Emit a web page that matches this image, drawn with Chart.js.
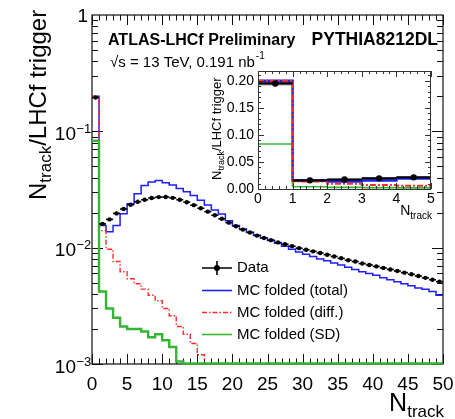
<!DOCTYPE html>
<html><head><meta charset="utf-8">
<script src="https://cdn.jsdelivr.net/npm/chart.js@4.4.1/dist/chart.umd.min.js"></script>
<style>
html,body{margin:0;padding:0;background:#fff;}
#wrap{position:relative;width:455px;height:419px;overflow:hidden;}
#main{position:absolute;left:0;top:0;}
#inset{position:absolute;left:200px;top:55px;}
</style></head><body>
<div id="wrap"><canvas id="main" width="455" height="419"></canvas><canvas id="inset" width="250" height="175"></canvas></div>
<script>
// ---------------- data ----------------
const binLowEdges = [0,1,2,3,4,5,6,7,8,9,10,11,12,13,14,15,16,17,18,19,20,21,22,23,24,25,26,27,28,29,30,31,32,33,34,35,36,37,38,39,40,41,42,43,44,45,46,47,48,49];
const dataValues = [0.195,0.0160,0.0175,0.0197,0.0215,0.0234,0.0248,0.0258,0.0267,0.0272,
  0.0273,0.0268,0.0258,0.0246,0.0232,0.0218,0.0204,0.0190,0.0177,0.0164,
  0.0153,0.0143,0.0135,0.0127,0.0121,0.0116,0.0111,0.0107,0.0103,0.0099,
  0.0096,0.0093,0.0090,0.0087,0.0084,0.0081,0.0078,0.0076,0.0073,0.0071,
  0.0069,0.0067,0.0065,0.0063,0.0061,0.0059,0.0057,0.0055,0.0053,0.0051];
const mcTotal = [0.200,0.0155,0.0137,0.0155,0.0196,0.0238,0.0290,0.0343,0.0366,0.0378,
  0.0362,0.0345,0.0323,0.0302,0.0281,0.0256,0.0233,0.0211,0.0195,0.0170,
  0.0155,0.0145,0.0136,0.0128,0.0121,0.0115,0.0109,0.0103,0.0097,0.0092,
  0.0088,0.0084,0.0080,0.0077,0.0074,0.0071,0.0068,0.0065,0.0062,0.0060,
  0.0058,0.0055,0.0053,0.0051,0.0049,0.0047,0.0045,0.0044,0.0042,0.0039];
const mcDiff = [0.200,0.0140,0.0097,0.0076,0.0062,0.0054,0.0049,0.0044,0.0039,0.0035,
  0.0030,0.0026,0.0021,0.0018,0.0015,0.0012,0.00101,0.00101,0.00101,0.00101,
  0.00101,0.00101,0.00101,0.00101,0.00101,0.00101,0.00101,0.00101,0.00101,0.00101,
  0.00101,0.00101,0.00101,0.00101,0.00101,0.00101,0.00101,0.00101,0.00101,0.00101,
  0.00101,0.00101,0.00101,0.00101,0.00101,0.00101,0.00101,0.00101,0.00101,0.00101];
const mcSD = [0.083,0.0042,0.0030,0.0025,0.0021,0.0020,0.0020,0.0019,0.0017,0.0018,
  0.0016,0.0014,0.00105,0.00101,0.00101,0.00101,0.00101,0.00101,0.00101,0.00101,
  0.00101,0.00101,0.00101,0.00101,0.00101,0.00101,0.00101,0.00101,0.00101,0.00101,
  0.00101,0.00101,0.00101,0.00101,0.00101,0.00101,0.00101,0.00101,0.00101,0.00101,
  0.00101,0.00101,0.00101,0.00101,0.00101,0.00101,0.00101,0.00101,0.00101,0.00101];
const dataSyst = [0.004,0.0018,0.0018,0.0018,0.0018];   // grey band in the inset
const insetBins = 5;
const xTickValues = [0,5,10,15,20,25,30,35,40,45,50];
const xTickLabels = ['0','5','10','15','20','25','30','35','40','45','50'];
const yTickValues = [1,0.1,0.01,0.001];
const yTickBase = ['1','10','10','10'];
const yTickExp = ['','\u22121','\u22122','\u22123'];
const insetXTickValues = [0,1,2,3,4,5];
const insetXTickLabels = ['0','1','2','3','4','5'];
const insetYTickValues = [0,0.05,0.10,0.15,0.20];
const insetYTickLabels = ['0.00','0.05','0.10','0.15','0.20'];
const seriesNames = ['Data','MC folded (total)','MC folded (diff.)','MC folded (SD)'];

// ---------------- styles ----------------
const BLUE='#1e1eff', RED='#ff2b2b', GREEN='#34b534', FONT='"Liberation Sans", Arial, sans-serif';
const RED_DASH=[5,2,1.5,2];

function stepPoints(vals){
  const pts = vals.map((v,i)=>({x:binLowEdges[i], y:v}));
  pts.push({x:binLowEdges[vals.length-1]+1, y:vals[vals.length-1]});
  return pts;
}
function drawParts(ctx, x, y, parts){
  let cx = x;
  for(const p of parts){
    ctx.font = (p.bold?'bold ':'') + p.size + 'px ' + FONT;
    ctx.fillText(p.t, cx, y + (p.dy||0));
    cx += ctx.measureText(p.t).width;
  }
  return cx;
}
function partsWidth(ctx, parts){
  let w=0; for(const p of parts){ ctx.font=(p.bold?'bold ':'')+p.size+'px '+FONT; w+=ctx.measureText(p.t).width; } return w;
}
function drawBinBars(chart, vals, width){
  const ctx=chart.ctx, xs=chart.scales.x, ys=chart.scales.y, a=chart.chartArea;
  ctx.save();
  ctx.beginPath(); ctx.rect(a.left,a.top,a.right-a.left,a.bottom-a.top); ctx.clip();
  ctx.strokeStyle='#000'; ctx.lineWidth=width;
  vals.forEach((v,i)=>{
    const y=ys.getPixelForValue(v);
    ctx.beginPath();
    ctx.moveTo(xs.getPixelForValue(binLowEdges[i]), y);
    ctx.lineTo(xs.getPixelForValue(binLowEdges[i]+1), y);
    ctx.stroke();
  });
  ctx.restore();
}

// ---------------- main chart decorations ----------------
const mainDecor = {
  id:'mainDecor',
  beforeDatasetsDraw(chart){
    const ctx=chart.ctx, xs=chart.scales.x, ys=chart.scales.y, a=chart.chartArea;
    ctx.save();
    ctx.strokeStyle='#111'; ctx.lineWidth=1.2;
    ctx.strokeRect(a.left, a.top, a.right-a.left, a.bottom-a.top);
    ctx.lineWidth=1;
    ctx.beginPath();
    for(let v=0; v<=50; v++){
      const px=Math.round(xs.getPixelForValue(v))+0.5;
      const len = v%5===0 ? 10 : 5.5;
      ctx.moveTo(px,a.bottom); ctx.lineTo(px,a.bottom-len);
      ctx.moveTo(px,a.top); ctx.lineTo(px,a.top+len);
    }
    for(let d=-3; d<0; d++){
      for(let m=1; m<=9; m++){
        const v=m*Math.pow(10,d);
        const py=Math.round(ys.getPixelForValue(v))+0.5;
        const len = m===1 ? 11 : 6;
        ctx.moveTo(a.left,py); ctx.lineTo(a.left+len,py);
        ctx.moveTo(a.right,py); ctx.lineTo(a.right-len,py);
      }
    }
    ctx.stroke();
    ctx.restore();
  },
  afterDatasetsDraw(chart){ drawBinBars(chart, dataValues, 1.6); },
  afterDraw(chart){
    const ctx=chart.ctx, xs=chart.scales.x, ys=chart.scales.y;
    ctx.save();
    ctx.fillStyle='#000';
    ctx.font='19px '+FONT; ctx.textAlign='center'; ctx.textBaseline='alphabetic';
    xTickValues.forEach((v,i)=>ctx.fillText(xTickLabels[i], xs.getPixelForValue(v), 390));
    yTickValues.forEach((v,i)=>{
      const py=ys.getPixelForValue(v);
      ctx.textAlign='right';
      if(yTickExp[i]===''){
        ctx.font='19px '+FONT; ctx.fillText(yTickBase[i], 88, py+7);
      } else {
        ctx.font='19px '+FONT; ctx.fillText(yTickBase[i], 76, py+8.5);
        ctx.textAlign='left'; ctx.font='13px '+FONT; ctx.fillText(yTickExp[i], 76.5, py+1.5);
      }
    });
    ctx.textAlign='left';
    ctx.save();
    ctx.translate(46, 200); ctx.rotate(-Math.PI/2);
    drawParts(ctx, 0, 0, [{t:'N',size:24},{t:'track',size:17,dy:5},{t:'/LHCf trigger',size:24}]);
    ctx.restore();
    const xt=[{t:'N',size:25},{t:'track',size:17,dy:6}];
    drawParts(ctx, 444-partsWidth(ctx,xt), 411, xt);
    ctx.font='bold 16px '+FONT; ctx.fillText('ATLAS-LHCf Preliminary', 108, 45);
    ctx.font='bold 17.5px '+FONT; ctx.textAlign='right'; ctx.fillText('PYTHIA8212DL', 438, 45);
    ctx.textAlign='left';
    const endX = drawParts(ctx, 110, 67, [{t:'\u221As = 13 TeV, 0.191 nb',size:15}]);
    ctx.font='10px '+FONT; ctx.fillText('-1', endX+1, 59);
    // legend
    const ly=[268,290.5,312.5,334.5], lx0=202, lx1=232;
    ctx.lineWidth=1.6;
    ctx.strokeStyle='#000'; ctx.beginPath(); ctx.moveTo(lx0,ly[0]); ctx.lineTo(lx1,ly[0]);
    ctx.moveTo(217,ly[0]-7); ctx.lineTo(217,ly[0]+7); ctx.stroke();
    ctx.beginPath(); ctx.arc(217,ly[0],3,0,Math.PI*2); ctx.fill();
    ctx.strokeStyle=BLUE; ctx.beginPath(); ctx.moveTo(lx0,ly[1]); ctx.lineTo(lx1,ly[1]); ctx.stroke();
    ctx.strokeStyle=RED; ctx.lineWidth=1.4; ctx.setLineDash(RED_DASH); ctx.beginPath(); ctx.moveTo(lx0,ly[2]); ctx.lineTo(lx1,ly[2]); ctx.stroke();
    ctx.setLineDash([]); ctx.lineWidth=1.6;
    ctx.strokeStyle=GREEN; ctx.beginPath(); ctx.moveTo(lx0,ly[3]); ctx.lineTo(lx1,ly[3]); ctx.stroke();
    ctx.font='15px '+FONT; ctx.textBaseline='middle'; ctx.fillStyle='#000';
    seriesNames.forEach((n,i)=>ctx.fillText(n, 237, ly[i]));
    ctx.restore();
  }
};

new Chart(document.getElementById('main'), {
  type:'line',
  data:{datasets:[
    {label:seriesNames[0], data:dataValues.map((v,i)=>({x:binLowEdges[i]+0.5,y:v})), showLine:false,
     pointRadius:2.2, pointBackgroundColor:'#000', pointBorderWidth:0, order:0},
    {label:seriesNames[3], data:stepPoints(mcSD), stepped:'before', borderColor:GREEN, borderWidth:2.4, pointRadius:0, order:1, clip:false},
    {label:seriesNames[2], data:stepPoints(mcDiff), stepped:'before', borderColor:RED, borderDash:RED_DASH, borderWidth:1.4, pointRadius:0, order:2, clip:false},
    {label:seriesNames[1], data:stepPoints(mcTotal), stepped:'before', borderColor:BLUE, borderWidth:1.5, pointRadius:0, order:3}
  ]},
  options:{
    responsive:false, animation:false, devicePixelRatio:1,
    layout:{padding:{left:92,right:12,top:15,bottom:55}},
    plugins:{legend:{display:false}, tooltip:{enabled:false}},
    scales:{
      x:{type:'linear',min:0,max:50,display:false},
      y:{type:'logarithmic',min:0.001,max:1,display:false}
    }
  },
  plugins:[mainDecor]
});

// ---------------- inset ----------------
const insetData = dataValues.slice(0,insetBins);
const insetDecor = {
  id:'insetDecor',
  beforeDatasetsDraw(chart){
    const ctx=chart.ctx, a=chart.chartArea;
    ctx.save(); ctx.fillStyle='#fff'; ctx.fillRect(a.left,a.top,a.right-a.left,a.bottom-a.top); ctx.restore();
  },
  afterDatasetsDraw(chart){ drawBinBars(chart, insetData, 2.2); },
  afterDraw(chart){
    const ctx=chart.ctx, xs=chart.scales.x, ys=chart.scales.y, a=chart.chartArea;
    ctx.save();
    ctx.strokeStyle='#333'; ctx.lineWidth=1;
    ctx.strokeRect(a.left+0.5, a.top+0.5, a.right-a.left-1, a.bottom-a.top);
    ctx.beginPath();
    for(let k=0;k<=25;k++){
      const v=k*0.2, px=Math.round(xs.getPixelForValue(v))+0.5, len=(k%5===0)?6:3;
      ctx.moveTo(px,a.bottom); ctx.lineTo(px,a.bottom-len);
      ctx.moveTo(px,a.top); ctx.lineTo(px,a.top+len);
    }
    for(let k=0;k<=21;k++){
      const v=k*0.01, py=Math.round(ys.getPixelForValue(v))+0.5, len=(k%5===0)?6:3;
      ctx.moveTo(a.left,py); ctx.lineTo(a.left+len,py);
      ctx.moveTo(a.right,py); ctx.lineTo(a.right-len,py);
    }
    ctx.stroke();
    ctx.fillStyle='#000';
    ctx.font='14px '+FONT; ctx.textAlign='right'; ctx.textBaseline='middle';
    insetYTickValues.forEach((v,i)=>ctx.fillText(insetYTickLabels[i], a.left-4, ys.getPixelForValue(v)+0.5));
    ctx.textAlign='center'; ctx.textBaseline='alphabetic';
    insetXTickValues.forEach((v,i)=>ctx.fillText(insetXTickLabels[i], xs.getPixelForValue(v), 148));
    ctx.textAlign='left';
    const xt=[{t:'N',size:14},{t:'track',size:10,dy:4}];
    drawParts(ctx, 232-partsWidth(ctx,xt), 160, xt);
    ctx.save(); ctx.translate(21,125); ctx.rotate(-Math.PI/2);
    drawParts(ctx, 0, 0, [{t:'N',size:13},{t:'track',size:9,dy:3},{t:'/LHCf trigger',size:13}]);
    ctx.restore();
    ctx.restore();
  }
};
new Chart(document.getElementById('inset'), {
  type:'line',
  data:{datasets:[
    {label:'Data', data:insetData.map((v,i)=>({x:binLowEdges[i]+0.5,y:v})), showLine:false,
     pointRadius:3.2, pointBackgroundColor:'#000', pointBorderWidth:0, order:0},
    {label:seriesNames[2], data:stepPoints(mcDiff.slice(0,insetBins)), stepped:'before', borderColor:RED, borderDash:[6,2,2,2], borderWidth:2, pointRadius:0, order:2},
    {label:seriesNames[1], data:stepPoints(mcTotal.slice(0,insetBins)), stepped:'before', borderColor:BLUE, borderWidth:2.5, pointRadius:0, order:3},
    {label:seriesNames[3], data:stepPoints(mcSD.slice(0,insetBins)), stepped:'before', borderColor:GREEN, borderWidth:1.6, pointRadius:0, order:4},
    {label:'syst up', data:stepPoints(insetData.map((v,i)=>v+dataSyst[i])), stepped:'before', borderWidth:0, pointRadius:0, fill:false, order:5},
    {label:'syst down', data:stepPoints(insetData.map((v,i)=>v-dataSyst[i])), stepped:'before', borderWidth:0, pointRadius:0,
     fill:'-1', backgroundColor:'rgba(140,140,140,0.85)', order:6}
  ]},
  options:{
    responsive:false, animation:false, devicePixelRatio:1,
    layout:{padding:{left:58,right:19,top:16,bottom:41}},
    plugins:{legend:{display:false}, tooltip:{enabled:false}},
    scales:{
      x:{type:'linear',min:0,max:5,display:false},
      y:{type:'linear',min:0,max:0.218,display:false}
    }
  },
  plugins:[insetDecor]
});
</script>
</body></html>
